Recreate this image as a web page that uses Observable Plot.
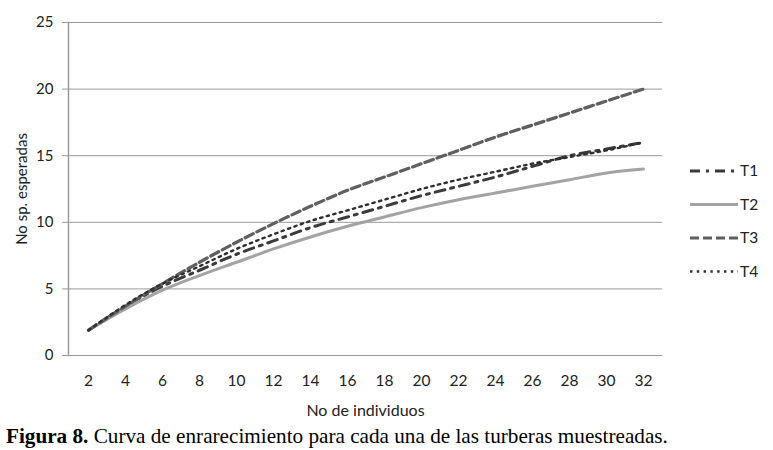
<!DOCTYPE html>
<html>
<head>
<meta charset="utf-8">
<script src="https://cdn.jsdelivr.net/npm/d3@7"></script>
<script src="https://cdn.jsdelivr.net/npm/@observablehq/plot@0.6"></script>
<style>
  body { margin: 0; background: #fff; width: 773px; height: 450px; overflow: hidden; position: relative; font-family: Lato, "Open Sans", sans-serif; }
  #chart { position: absolute; left: 0; top: 0; }
  #legend { position: absolute; left: 688px; top: 158px; }
  #caption { position: absolute; left: 6px; top: 424px; line-height: 24px; font-family: "Liberation Serif", "Times New Roman", serif; font-size: 21.2px; color: #000; white-space: nowrap; }
</style>
</head>
<body>
<div id="chart"></div>
<div id="legend"></div>
<div id="caption"><b>Figura 8.</b> Curva de enrarecimiento para cada una de las turberas muestreadas.</div>
<script>
const individuos = [2, 4, 6, 8, 10, 12, 14, 16, 18, 20, 22, 24, 26, 28, 30, 32];
const T1 = [1.9, 3.7, 5.2, 6.4, 7.6, 8.6, 9.6, 10.4, 11.2, 12.0, 12.7, 13.4, 14.2, 15.0, 15.5, 16.0];
const T2 = [1.9, 3.5, 4.9, 6.0, 7.0, 8.0, 8.9, 9.7, 10.4, 11.1, 11.7, 12.2, 12.7, 13.2, 13.7, 14.0];
const T3 = [1.9, 3.7, 5.4, 7.0, 8.5, 9.9, 11.2, 12.4, 13.4, 14.4, 15.4, 16.4, 17.3, 18.2, 19.1, 20.0];
const T4 = [1.9, 3.8, 5.4, 6.7, 8.0, 9.1, 10.1, 10.9, 11.7, 12.5, 13.2, 13.8, 14.4, 14.9, 15.4, 16.0];
const yTicks = [0, 5, 10, 15, 20, 25];
const seriesNames = ["T1", "T2", "T3", "T4"];
const seriesValues = {T1, T2, T3, T4};

const styles = {
  T1: {stroke: "#3a3a3a", strokeWidth: 3, strokeDasharray: "10,6,3,6"},
  T2: {stroke: "#a3a3a3", strokeWidth: 3, strokeDasharray: null},
  T3: {stroke: "#5f5f5f", strokeWidth: 3.2, strokeDasharray: "9,4"},
  T4: {stroke: "#2f2f2f", strokeWidth: 2.4, strokeDasharray: "2.4,4.4"}
};

const rows = seriesNames.flatMap(s => individuos.map((x, i) => ({serie: s, x, y: seriesValues[s][i]})));

const chart = Plot.plot({
  width: 773,
  height: 422,
  marginLeft: 68,
  marginRight: 111,
  marginTop: 22,
  marginBottom: 67,
  style: {fontFamily: "Lato, 'Open Sans', sans-serif", fontSize: "15px", color: "#222", background: "#fff"},
  x: {type: "point", domain: individuos, padding: 0.5},
  y: {domain: [0, 25]},
  marks: [
    Plot.ruleY(yTicks, {stroke: "#9a9a9a", strokeWidth: 1}),
    Plot.axisY({ticks: yTicks, tickSize: 6, tickPadding: 9, stroke: "#9a9a9a", label: "No sp. esperadas", labelAnchor: "center", labelOffset: 52, labelArrow: "none", fontSize: 15}),
    ...seriesNames.map(s => Plot.line(rows.filter(d => d.serie === s), {
      x: "x", y: "y", curve: "monotone-x",
      stroke: styles[s].stroke, strokeWidth: styles[s].strokeWidth,
      strokeDasharray: styles[s].strokeDasharray
    })),
    Plot.axisX({tickSize: 0, tickPadding: 19, fontSize: 15.5, label: null}),
    Plot.axisX({tickSize: 0, tickPadding: 19, tickFormat: () => "", label: "No de individuos", labelAnchor: "center", labelOffset: 60, labelArrow: "none", fontSize: 16}),
    Plot.frame({anchor: "left", stroke: "#9a9a9a", strokeWidth: 1.5})
  ]
});
document.getElementById("chart").appendChild(chart);

// legend
const lg = d3.select("#legend").append("svg").attr("width", 85).attr("height", 130)
  .style("font-family", "Lato, 'Open Sans', sans-serif").style("font-size", "15.5px");
seriesNames.forEach((s, i) => {
  const g = lg.append("g").attr("transform", `translate(0,${13 + i * 33.5})`);
  g.append("line").attr("x1", 2).attr("x2", 50).attr("y1", 0).attr("y2", 0)
    .attr("stroke", styles[s].stroke).attr("stroke-width", styles[s].strokeWidth)
    .attr("stroke-dasharray", styles[s].strokeDasharray);
  g.append("text").attr("x", 52).attr("y", 0).attr("dy", "0.35em").attr("fill", "#222").text(s);
});
</script>
</body>
</html>
